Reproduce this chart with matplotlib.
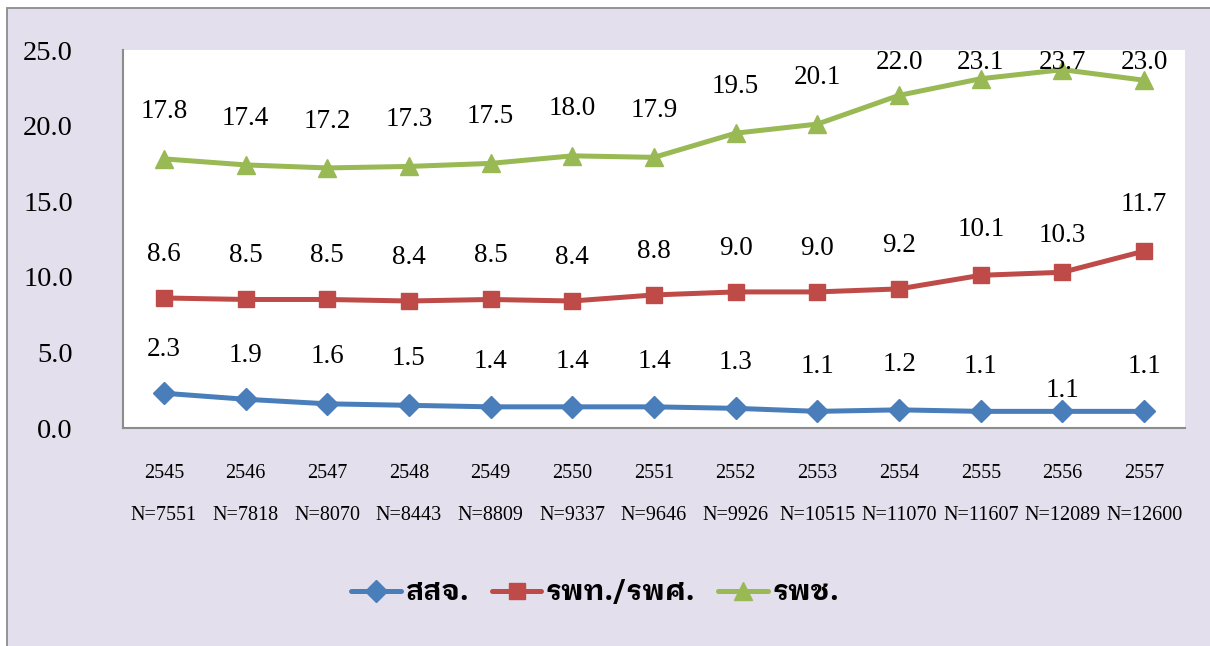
import matplotlib
matplotlib.use("Agg")
import matplotlib.pyplot as plt
from matplotlib import font_manager
from matplotlib.ft2font import FT2Font
from matplotlib.patches import Rectangle
from matplotlib.lines import Line2D

# ---- data ----
years = ["2545", "2546", "2547", "2548", "2549", "2550", "2551",
         "2552", "2553", "2554", "2555", "2556", "2557"]
n_counts = ["7551", "7818", "8070", "8443", "8809", "9337", "9646",
            "9926", "10515", "11070", "11607", "12089", "12600"]
series_names = ["สสจ.", "รพท./รพศ.", "รพช."]
ssj = [2.3, 1.9, 1.6, 1.5, 1.4, 1.4, 1.4, 1.3, 1.1, 1.2, 1.1, 1.1, 1.1]
rpt = [8.6, 8.5, 8.5, 8.4, 8.5, 8.4, 8.8, 9.0, 9.0, 9.2, 10.1, 10.3, 11.7]
rpc = [17.8, 17.4, 17.2, 17.3, 17.5, 18.0, 17.9, 19.5, 20.1, 22.0, 23.1, 23.7, 23.0]

# label offsets (data units above the point) – layout only
off_ssj = [2.9, 2.9, 3.1, 3.1, 3.0, 3.0, 3.0, 3.0, 3.0, 3.0, 3.0, 1.4, 3.0]
off_rpt = [2.9, 2.9, 2.9, 2.9, 2.9, 2.9, 2.9, 2.9, 2.9, 2.9, 3.0, 2.45, 3.05]
label_top = 24.15

# ---- find a bold font with Thai glyphs (prefer looped / serif Thai) ----
prefs = ["norasi", "serif thai", "looped", "sarabun", "kinnari", "garuda", "loma"]
cands = []
for f in font_manager.fontManager.ttflist:
    try:
        cm = FT2Font(f.fname).get_charmap()
    except Exception:
        continue
    if 0x0E2A in cm and 0x0E08 in cm and 0x0E28 in cm:
        name = f.name.lower()
        rank = next((k for k, p in enumerate(prefs) if p in name), len(prefs))
        bold = 0 if f.weight in ("bold", 700, "heavy", 800, 900) else 1
        cands.append((bold, rank, f.name))
cands.sort()
thai_font = cands[0][2] if cands else None

serif = "Liberation Serif"
plt.rcParams["font.family"] = [serif, "DejaVu Sans"]

W, H = 1210, 646
fig = plt.figure(figsize=(W / 100, H / 100), dpi=100, facecolor="white")
bg = Rectangle((7 / W, -0.02), 1.05, 1 - 8 / H + 0.02, transform=fig.transFigure,
               facecolor="#E4DFEC", edgecolor="#8C8C8C", linewidth=1.3, zorder=-10)
fig.patches.append(bg)

ax = fig.add_axes([123 / W, 1 - 428 / H, (1185 - 123) / W, (428 - 50) / H])
ax.set_zorder(1)
ax.set_facecolor("white")
x = list(range(len(years)))

colors = ["#4A7EBB", "#BE4B48", "#98B954"]
markers = ["D", "s", "^"]
msizes = [11, 12, 13]
for vals, c, m, ms in zip([ssj, rpt, rpc], colors, markers, msizes):
    ax.plot(x, vals, color=c, lw=3.6, marker=m, markersize=ms,
            markeredgecolor=c, solid_capstyle="round", zorder=3, clip_on=False)

fs = 19.5
for i, v in enumerate(ssj):
    ax.text(i, v + off_ssj[i], f"{v:.1f}", ha="center", va="center", fontsize=fs)
for i, v in enumerate(rpt):
    ax.text(i, v + off_rpt[i], f"{v:.1f}", ha="center", va="center", fontsize=fs)
for i, v in enumerate(rpc):
    ax.text(i, min(v + 3.1, label_top), f"{v:.1f}", ha="center", va="center", fontsize=fs)

ax.set_xlim(-0.5, len(years) - 0.5)
ax.set_ylim(0, 25)
ax.set_yticks([0, 5, 10, 15, 20, 25])
ax.set_yticklabels([f"{t:.1f}" for t in [0, 5, 10, 15, 20, 25]], fontsize=20.5)
ax.set_xticks(x)
ax.set_xticklabels([f"{y}\nN={n}" for y, n in zip(years, n_counts)],
                   fontsize=14.5, linespacing=2.6)
ax.tick_params(axis="y", length=0, pad=36)
ax.tick_params(axis="x", length=0, pad=26)
for s in ["top", "right"]:
    ax.spines[s].set_visible(False)
for s in ["left", "bottom"]:
    ax.spines[s].set_color("#8C8C8C")
    ax.spines[s].set_linewidth(1.5)

handles = [Line2D([], [], color=c, lw=3.6, marker=m, markersize=ms, markeredgecolor=c,
                  solid_capstyle="round")
           for c, m, ms in zip(colors, markers, msizes)]
lfam = [thai_font, "DejaVu Sans"] if thai_font else ["DejaVu Sans"]
leg = fig.legend(handles, series_names, loc="center", bbox_to_anchor=(595 / W, 1 - 593 / H),
                 ncol=3, frameon=False, handlelength=1.75, handletextpad=0.15,
                 columnspacing=0.8,
                 prop={"family": lfam, "weight": "bold", "size": 20.5})

fig.savefig("out.png", dpi=100, facecolor=fig.get_facecolor())
